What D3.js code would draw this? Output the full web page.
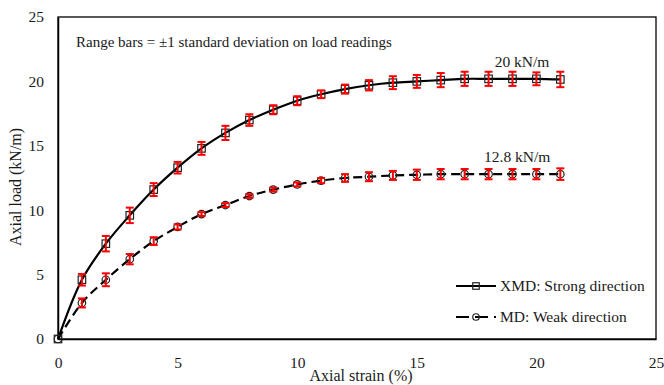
<!DOCTYPE html>
<html>
<head>
<meta charset="utf-8">
<script src="https://cdn.jsdelivr.net/npm/d3@7"></script>
<style>
  html, body { margin: 0; padding: 0; background: #fff; }
  svg { display: block; }
  svg text { font-family: "Liberation Serif", "Times New Roman", serif; fill: #1a1a1a; }
</style>
</head>
<body>
<svg id="chart" width="664" height="385"></svg>
<script>
// Axial strain (%) at each load reading
const strain = [0, 1, 2, 3, 4, 5, 6, 7, 8, 9, 10, 11, 12, 13, 14, 15, 16, 17, 18, 19, 20, 21];
// XMD (strong direction) mean load and standard deviation, kN/m
const xmdLoad = [0, 4.6, 7.4, 9.6, 11.6, 13.3, 14.8, 16.0, 17.0, 17.8, 18.5, 19.0, 19.4, 19.7, 19.9, 20.0, 20.1, 20.2, 20.2, 20.2, 20.2, 20.15];
const xmdSd   = [0, 0.45, 0.6, 0.6, 0.5, 0.45, 0.5, 0.55, 0.45, 0.35, 0.35, 0.3, 0.35, 0.4, 0.5, 0.5, 0.55, 0.55, 0.55, 0.55, 0.5, 0.6];
// MD (weak direction) mean load and standard deviation, kN/m
const mdLoad = [0, 2.8, 4.6, 6.2, 7.6, 8.7, 9.7, 10.4, 11.1, 11.6, 12.0, 12.3, 12.5, 12.6, 12.7, 12.75, 12.8, 12.8, 12.8, 12.8, 12.8, 12.8];
const mdSd   = [0, 0.35, 0.5, 0.4, 0.3, 0.2, 0.15, 0.15, 0.15, 0.15, 0.15, 0.2, 0.3, 0.35, 0.35, 0.4, 0.4, 0.4, 0.4, 0.4, 0.4, 0.45];
// Axis ticks
const xTicks = [0, 5, 10, 15, 20, 25];
const yTicks = [0, 5, 10, 15, 20, 25];
// Series names and peak labels
const seriesNames = ["XMD: Strong direction", "MD: Weak direction"];
const peakLabels = ["20 kN/m", "12.8 kN/m"];
const noteText = "Range bars = \u00b11 standard deviation on load readings";

const svg = d3.select("#chart");
const m = { left: 58, right: 656, top: 17, bottom: 339 };

const x = d3.scaleLinear().domain([0, 25]).range([m.left, m.right]);
const y = d3.scaleLinear().domain([0, 25]).range([m.bottom, m.top]);

// Plot frame
svg.append("rect")
  .attr("x", m.left).attr("y", m.top)
  .attr("width", m.right - m.left).attr("height", m.bottom - m.top)
  .attr("fill", "none").attr("stroke", "#000").attr("stroke-width", 1.3);

// Axes (labels only, no tick marks)
const xAxis = svg.append("g")
  .attr("transform", `translate(0,${m.bottom})`)
  .call(d3.axisBottom(x).tickValues(xTicks).tickSize(0).tickPadding(18).tickFormat(d3.format("d")));
const yAxis = svg.append("g")
  .attr("transform", `translate(${m.left},0)`)
  .call(d3.axisLeft(y).tickValues(yTicks).tickSize(0).tickPadding(14).tickFormat(d3.format("d")));
[xAxis, yAxis].forEach(g => {
  g.attr("font-family", null).attr("font-size", null);
  g.select(".domain").attr("stroke", "#000").attr("stroke-width", 1.5);
  g.selectAll("text").attr("font-size", 15.5).attr("fill", "#1a1a1a");
});

// Axis titles
svg.append("text")
  .attr("x", 361).attr("y", 381)
  .attr("text-anchor", "middle").attr("font-size", 16)
  .text("Axial strain (%)");
svg.append("text")
  .attr("transform", "translate(21,187) rotate(-90)")
  .attr("text-anchor", "middle").attr("font-size", 16)
  .text("Axial load (kN/m)");

// Note
svg.append("text")
  .attr("x", 76).attr("y", 47)
  .attr("font-size", 15)
  .text(noteText);

const series = [
  { load: xmdLoad, sd: xmdSd, dash: null, marker: "square" },
  { load: mdLoad, sd: mdSd, dash: "9,5", marker: "circle" }
];

const line = d3.line()
  .x((d, i) => x(strain[i]))
  .y(d => y(d))
  .curve(d3.curveCatmullRom.alpha(0.5));

series.forEach(s => {
  svg.append("path")
    .datum(s.load)
    .attr("d", line)
    .attr("fill", "none")
    .attr("stroke", "#000")
    .attr("stroke-width", 2.2)
    .attr("stroke-dasharray", s.dash);
});

function drawMarker(g, type, cx, cy, size) {
  if (type === "square") {
    g.append("rect")
      .attr("x", cx - size / 2).attr("y", cy - size / 2)
      .attr("width", size).attr("height", size)
      .attr("fill", "none").attr("stroke", "#222").attr("stroke-width", 1.2);
  } else {
    g.append("circle")
      .attr("cx", cx).attr("cy", cy).attr("r", size / 2)
      .attr("fill", "none").attr("stroke", "#222").attr("stroke-width", 1.2);
  }
}

// Markers and range bars
series.forEach(s => {
  const g = svg.append("g");
  s.load.forEach((v, i) => {
    const cx = x(strain[i]), cy = y(v);
    drawMarker(g, s.marker, cx, cy, 7.5);
    if (s.sd[i] > 0) {
      const yTop = y(v + s.sd[i]), yBot = y(v - s.sd[i]);
      const eb = g.append("g").attr("stroke", "#f00").attr("stroke-width", 2);
      eb.append("line").attr("x1", cx).attr("x2", cx).attr("y1", yTop).attr("y2", yBot);
      eb.append("line").attr("x1", cx - 4).attr("x2", cx + 4).attr("y1", yTop).attr("y2", yTop);
      eb.append("line").attr("x1", cx - 4).attr("x2", cx + 4).attr("y1", yBot).attr("y2", yBot);
    }
  });
});

// Peak value labels
svg.append("text")
  .attr("x", x(19.4)).attr("y", y(d3.max(xmdLoad)) - 12)
  .attr("text-anchor", "middle").attr("font-size", 15.5)
  .text(peakLabels[0]);
svg.append("text")
  .attr("x", x(19.2)).attr("y", y(d3.max(mdLoad)) - 12)
  .attr("text-anchor", "middle").attr("font-size", 15.5)
  .text(peakLabels[1]);

// Legend
const legend = svg.append("g");
seriesNames.forEach((name, i) => {
  const ly = 286 + i * 31;
  const s = series[i];
  legend.append("line")
    .attr("x1", 456).attr("x2", 496).attr("y1", ly).attr("y2", ly)
    .attr("stroke", "#000").attr("stroke-width", 1.8)
    .attr("stroke-dasharray", s.dash ? "13,6" : null);
  drawMarker(legend, s.marker, 476, ly, 6.5);
  legend.append("text")
    .attr("x", 500).attr("y", ly + 5)
    .attr("font-size", 15.5)
    .text(name);
});
</script>
</body>
</html>
